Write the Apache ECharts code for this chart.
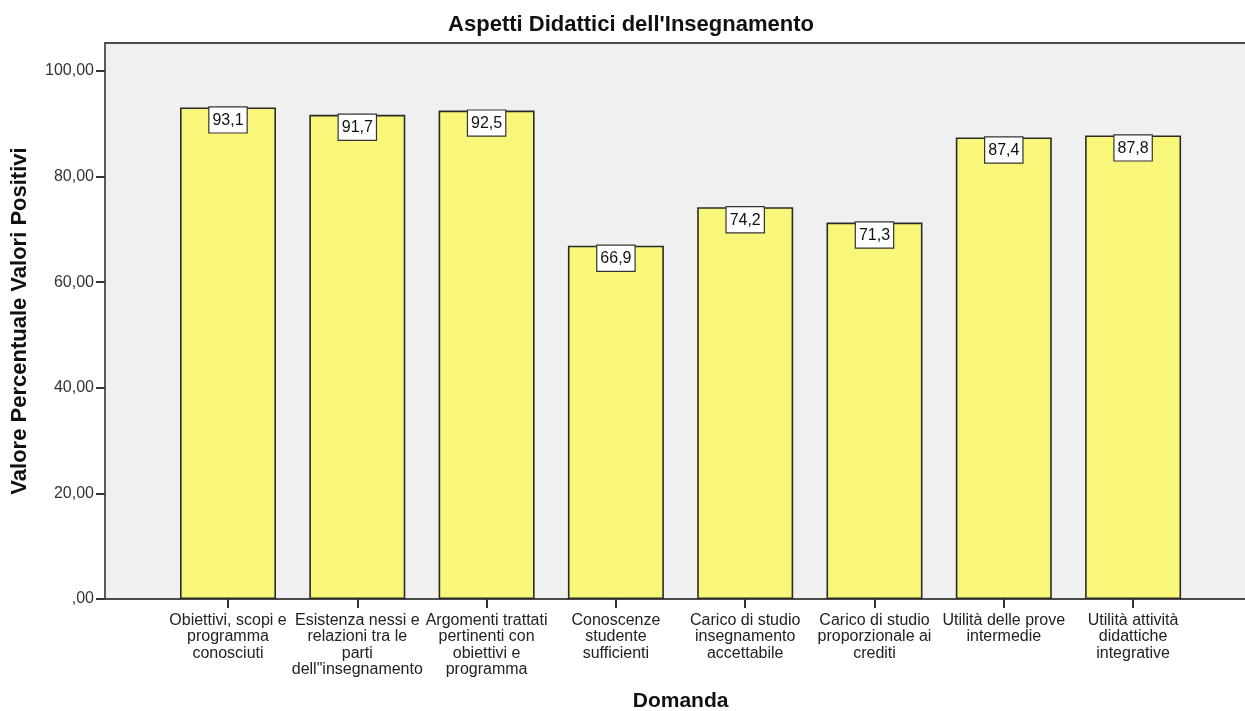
<!DOCTYPE html>
<html>
<head>
<meta charset="utf-8">
<script src="https://cdn.jsdelivr.net/npm/echarts@6/dist/echarts.min.js"></script>
<style>
html,body{margin:0;padding:0;background:#fff;}
#c{width:1245px;height:711px;}
</style>
</head>
<body>
<div id="c"></div>
<script>
var categories = [
  'Obiettivi, scopi e\nprogramma\nconosciuti',
  'Esistenza nessi e\nrelazioni tra le\nparti\ndell"insegnamento',
  'Argomenti trattati\npertinenti con\nobiettivi e\nprogramma',
  'Conoscenze\nstudente\nsufficienti',
  'Carico di studio\ninsegnamento\naccettabile',
  'Carico di studio\nproporzionale ai\ncrediti',
  'Utilità delle prove\nintermedie',
  'Utilità attività\ndidattiche\nintegrative'
];
var values = [93.1, 91.7, 92.5, 66.9, 74.2, 71.3, 87.4, 87.8];
var yTicks = [0, 20, 40, 60, 80, 100];
var yMax = 105.3;
var titleText = "Aspetti Didattici dell'Insegnamento";
var xName = 'Domanda';
var yName = 'Valore Percentuale Valori Positivi';

var FONT = '"Liberation Sans", Arial, sans-serif';
function fmtY(v) {
  if (v === 0) return ',00';
  return v.toFixed(2).replace('.', ',');
}
var chart = echarts.init(document.getElementById('c'), null, {renderer: 'canvas'});
chart.setOption({
  animation: false,
  backgroundColor: '#ffffff',
  textStyle: {fontFamily: FONT},
  title: {
    text: titleText,
    left: 626, top: 9, textAlign: 'center',
    textStyle: {fontFamily: FONT, fontSize: 22, fontWeight: 'bold', color: '#111'}
  },
  grid: [
    {left: 105, top: 43, width: 1165, height: 556, show: true, outerBoundsMode: 'none',
     backgroundColor: '#f0f0f0', borderColor: '#4a4a4a', borderWidth: 1.8, containLabel: false},
    {left: 163.35, top: 43, width: 1034.4, height: 556, outerBoundsMode: 'none', containLabel: false}
  ],
  xAxis: [
    {gridIndex: 0, type: 'value', min: 0, max: 1, show: false},
    {gridIndex: 1, type: 'category', data: categories,
     axisLine: {show: false},
     axisTick: {show: true, alignWithLabel: true, length: 9, lineStyle: {color: '#333', width: 2}},
     axisLabel: {interval: 0, fontFamily: FONT, fontSize: 16, lineHeight: 16.5, color: '#222', margin: 13},
     name: xName, nameLocation: 'middle', nameGap: 92,
     nameTextStyle: {fontFamily: FONT, fontSize: 21, fontWeight: 'bold', color: '#111'}
    }
  ],
  yAxis: [
    {gridIndex: 0, type: 'value', min: 0, max: yMax,
     axisLine: {show: false},
     splitLine: {show: false},
     axisTick: {show: true, length: 9, customValues: yTicks, lineStyle: {color: '#333', width: 2}},
     axisLabel: {customValues: yTicks, formatter: fmtY, fontFamily: FONT, fontSize: 16, color: '#333', margin: 11},
     name: yName, nameLocation: 'middle', nameGap: 74, nameRotate: 90,
     nameTextStyle: {fontFamily: FONT, fontSize: 22, fontWeight: 'bold', color: '#111'}
    },
    {gridIndex: 1, type: 'value', min: 0, max: yMax, show: false}
  ],
  series: [{
    type: 'bar',
    xAxisIndex: 1, yAxisIndex: 1,
    data: values,
    barWidth: 96,
    itemStyle: {color: '#f9f77a', borderColor: '#2a2a2a', borderWidth: 1.6},
    label: {
      show: true, position: 'insideTop', distance: 0,
      formatter: function (p) { return p.value.toFixed(1).replace('.', ','); },
      fontFamily: FONT, fontSize: 16, color: '#111',
      backgroundColor: '#ffffff', borderColor: '#333', borderWidth: 1.2,
      padding: [5, 3, 4, 3]
    }
  }]
});
</script>
</body>
</html>
